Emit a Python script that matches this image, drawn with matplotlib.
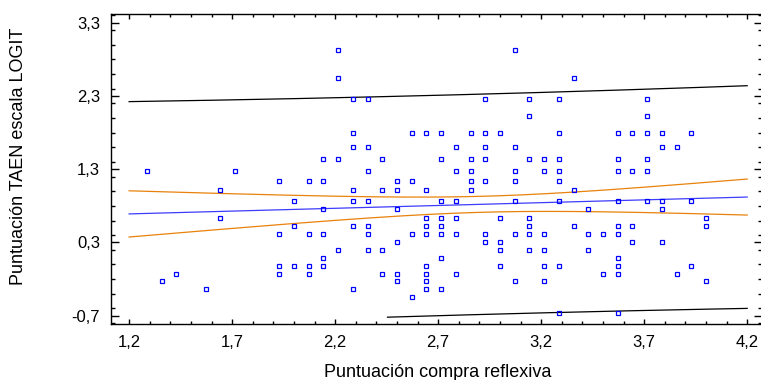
import numpy as np
import matplotlib
matplotlib.use("Agg")
import matplotlib.pyplot as plt
from matplotlib.ticker import MultipleLocator, FuncFormatter

plt.rcParams["font.family"] = ["Liberation Sans", "DejaVu Sans"]

# ─── Data ────────────────────────────────────────────────────────────────────
# x scores sit on a 1/14 grid (sum of 14 items / 14); each row is one logit level
row_y = [2.93, 2.55, 2.26, 2.02, 1.80, 1.61, 1.44, 1.28, 1.14, 1.01, 0.87, 0.76,
         0.64, 0.52, 0.41, 0.31, 0.20, 0.09, -0.02, -0.13, -0.22, -0.34, -0.44, -0.66]
row_k = [
    [31, 43],
    [31, 47],
    [32, 33, 41, 44, 46, 52],
    [44, 52],
    [32, 36, 37, 38, 40, 41, 42, 46, 50, 51, 52, 53, 55],
    [32, 33, 39, 41, 43, 53, 54],
    [30, 31, 34, 38, 40, 41, 44, 45, 46, 50, 52],
    [18, 24, 33, 39, 40, 43, 45, 46, 50, 51, 52],
    [27, 29, 30, 35, 36, 40, 41, 43, 46],
    [23, 32, 34, 35, 37, 40, 47],
    [28, 32, 33, 38, 39, 43, 46, 50, 52, 53, 55],
    [30, 35, 48, 53],
    [23, 37, 38, 39, 42, 44, 56],
    [28, 32, 33, 37, 38, 44, 47, 50, 51, 56],
    [27, 29, 30, 33, 36, 37, 38, 39, 41, 43, 44, 45, 48, 49, 50],
    [35, 41, 42, 51, 53],
    [31, 33, 34, 42, 44, 45, 48],
    [30, 38, 50],
    [27, 28, 29, 30, 37, 42, 45, 46, 50, 55],
    [20, 27, 29, 34, 35, 37, 39, 49, 50, 54],
    [19, 35, 37, 43, 45, 56],
    [22, 32, 37, 38],
    [36],
    [46, 50],
]
n_items = 14

# fitted model as shown on the chart (full sample, overlapping points included)
fit_b0 = 0.598
fit_b1 = 0.0767
band_ts = 1.50      # t * residual s.d.
n_obs = 189
x_mean = 2.92
x_sxx = 76.0
band_floor = -0.72  # bands are not drawn below the axis range

x_ticks = [1.2, 1.7, 2.2, 2.7, 3.2, 3.7, 4.2]
y_ticks = [-0.7, 0.3, 1.3, 2.3, 3.3]

x = np.concatenate([np.array(ks) / n_items for ks in row_k])
y = np.concatenate([np.full(len(ks), yv) for ks, yv in zip(row_k, row_y)])

# ─── Regression line with 95% confidence / prediction bands ──────────────────
xs = np.linspace(x_ticks[0], x_ticks[-1], 300)
fit = fit_b0 + fit_b1 * xs
lev = 1 / n_obs + (xs - x_mean) ** 2 / x_sxx
ci = band_ts * np.sqrt(lev)
pi = band_ts * np.sqrt(1 + lev)
lo_pi = np.where(fit - pi >= band_floor, fit - pi, np.nan)

fig = plt.figure(figsize=(7.61, 3.80), dpi=100)
ax = fig.add_axes([111 / 761, 1 - 324.3 / 380, 651 / 761, 310 / 380])

ax.plot(xs, fit + pi, color="black", lw=0.9)
ax.plot(xs, lo_pi, color="black", lw=0.9)
ax.plot(xs, fit + ci, color="#e8820c", lw=0.9)
ax.plot(xs, fit - ci, color="#e8820c", lw=0.9)
ax.plot(xs, fit, color="#3c3cff", lw=0.9)
ax.plot(x, y, "s", ls="none", mfc="none", mec="#0000ff", ms=3.2, mew=0.9)

ax.set_xlim(1.112, 4.272)
ax.set_ylim(-0.817, 3.415)
ax.set_xticks(x_ticks)
ax.set_yticks(y_ticks)
ax.xaxis.set_minor_locator(MultipleLocator(0.1))
ax.yaxis.set_minor_locator(MultipleLocator(0.2))
comma = FuncFormatter(lambda v, p: f"{v:.1f}".replace(".", ","))
ax.xaxis.set_major_formatter(comma)
ax.yaxis.set_major_formatter(comma)

ax.tick_params(which="both", direction="in", top=True, right=True,
               width=1.0, labelsize=12)
ax.tick_params(axis="x", which="major", length=3.6, pad=7.5)
ax.tick_params(axis="x", which="minor", length=2.0)
ax.tick_params(axis="y", which="major", length=6.0, pad=8)
ax.tick_params(axis="y", which="minor", length=3.0)
for sp in ax.spines.values():
    sp.set_linewidth(1.0)

fig.text(438 / 761, 1 - 377 / 380, "Puntuación compra reflexiva",
         ha="center", va="baseline", fontsize=13)
fig.text(19 / 761, 1 - 156.7 / 380, "Puntuación TAEN escala LOGIT",
         ha="center", va="center", rotation=90, fontsize=13)

fig.savefig("out.png", dpi=100)
